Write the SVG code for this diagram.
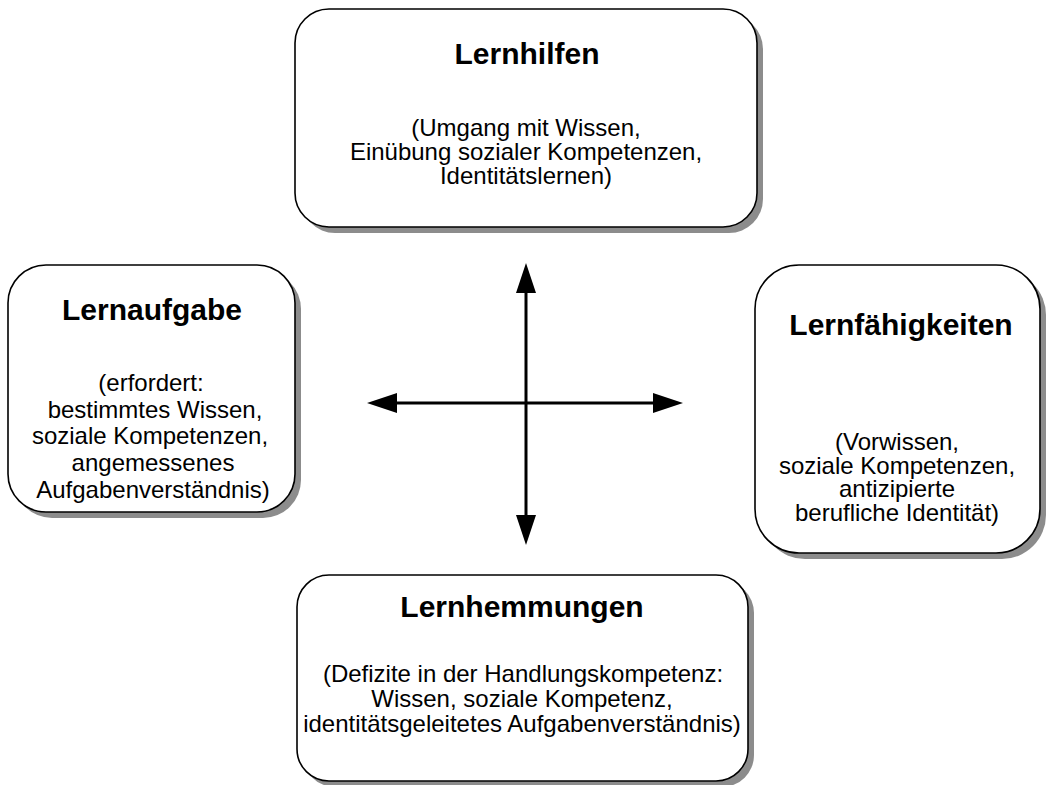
<svg xmlns="http://www.w3.org/2000/svg" width="1048" height="785" viewBox="0 0 1048 785">
<style>
.box{fill:#ffffff;stroke:#000000;stroke-width:1.6}
.shadow{fill:#8c8c8c;stroke:none}
.title{font-family:"Liberation Sans",Arial,sans-serif;font-weight:bold;font-size:30px;fill:#000;text-anchor:middle}
.body{font-family:"Liberation Sans",Arial,sans-serif;font-size:24px;fill:#000;text-anchor:middle}
.conn{stroke:#000;stroke-width:3;fill:none;marker-start:url(#ah);marker-end:url(#ah)}
</style>
<defs>
<marker id="ah" viewBox="0 0 30 20" refX="2" refY="10" markerWidth="30" markerHeight="20" markerUnits="userSpaceOnUse" orient="auto-start-reverse">
<path d="M0,0 L30,10 L0,20 z" fill="#000"/>
</marker>
</defs>
<g id="connectors">
<line class="conn" x1="395" y1="403" x2="655" y2="403"/>
<line class="conn" x1="526" y1="291" x2="526" y2="517"/>
</g>
<g id="lernhilfen">
<rect class="shadow" x="301" y="15" width="462" height="218" rx="34" ry="34"/>
<rect class="box" x="295" y="9" width="462" height="218" rx="34" ry="34"/>
<text class="title" x="527" y="64">Lernhilfen</text>
<text class="body" x="526" y="136">(Umgang mit Wissen,</text>
<text class="body" x="526" y="160">Einübung sozialer Kompetenzen,</text>
<text class="body" x="526" y="184">Identitätslernen)</text>
</g>
<g id="lernaufgabe">
<rect class="shadow" x="14" y="271" width="287" height="247" rx="38" ry="38"/>
<rect class="box" x="8" y="265" width="287" height="247" rx="38" ry="38"/>
<text class="title" x="152" y="320">Lernaufgabe</text>
<text class="body" x="151" y="391">(erfordert:</text>
<text class="body" x="155" y="418">bestimmtes Wissen,</text>
<text class="body" x="150" y="444">soziale Kompetenzen,</text>
<text class="body" x="153" y="471">angemessenes</text>
<text class="body" x="153" y="498">Aufgabenverständnis)</text>
</g>
<g id="lernfaehigkeiten">
<rect class="shadow" x="761" y="271" width="285" height="288" rx="44" ry="44"/>
<rect class="box" x="755" y="265" width="285" height="288" rx="44" ry="44"/>
<text class="title" x="901" y="335">Lernfähigkeiten</text>
<text class="body" x="897" y="450">(Vorwissen,</text>
<text class="body" x="897" y="474">soziale Kompetenzen,</text>
<text class="body" x="897" y="497">antizipierte</text>
<text class="body" x="897" y="521">berufliche Identität)</text>
</g>
<g id="lernhemmungen">
<rect class="shadow" x="303" y="581" width="451" height="206" rx="32" ry="32"/>
<rect class="box" x="297" y="575" width="451" height="206" rx="32" ry="32"/>
<text class="title" x="522" y="617">Lernhemmungen</text>
<text class="body" x="523" y="682">(Defizite in der Handlungskompetenz:</text>
<text class="body" x="522" y="707">Wissen, soziale Kompetenz,</text>
<text class="body" x="522" y="732">identitätsgeleitetes Aufgabenverständnis)</text>
</g>
</svg>
